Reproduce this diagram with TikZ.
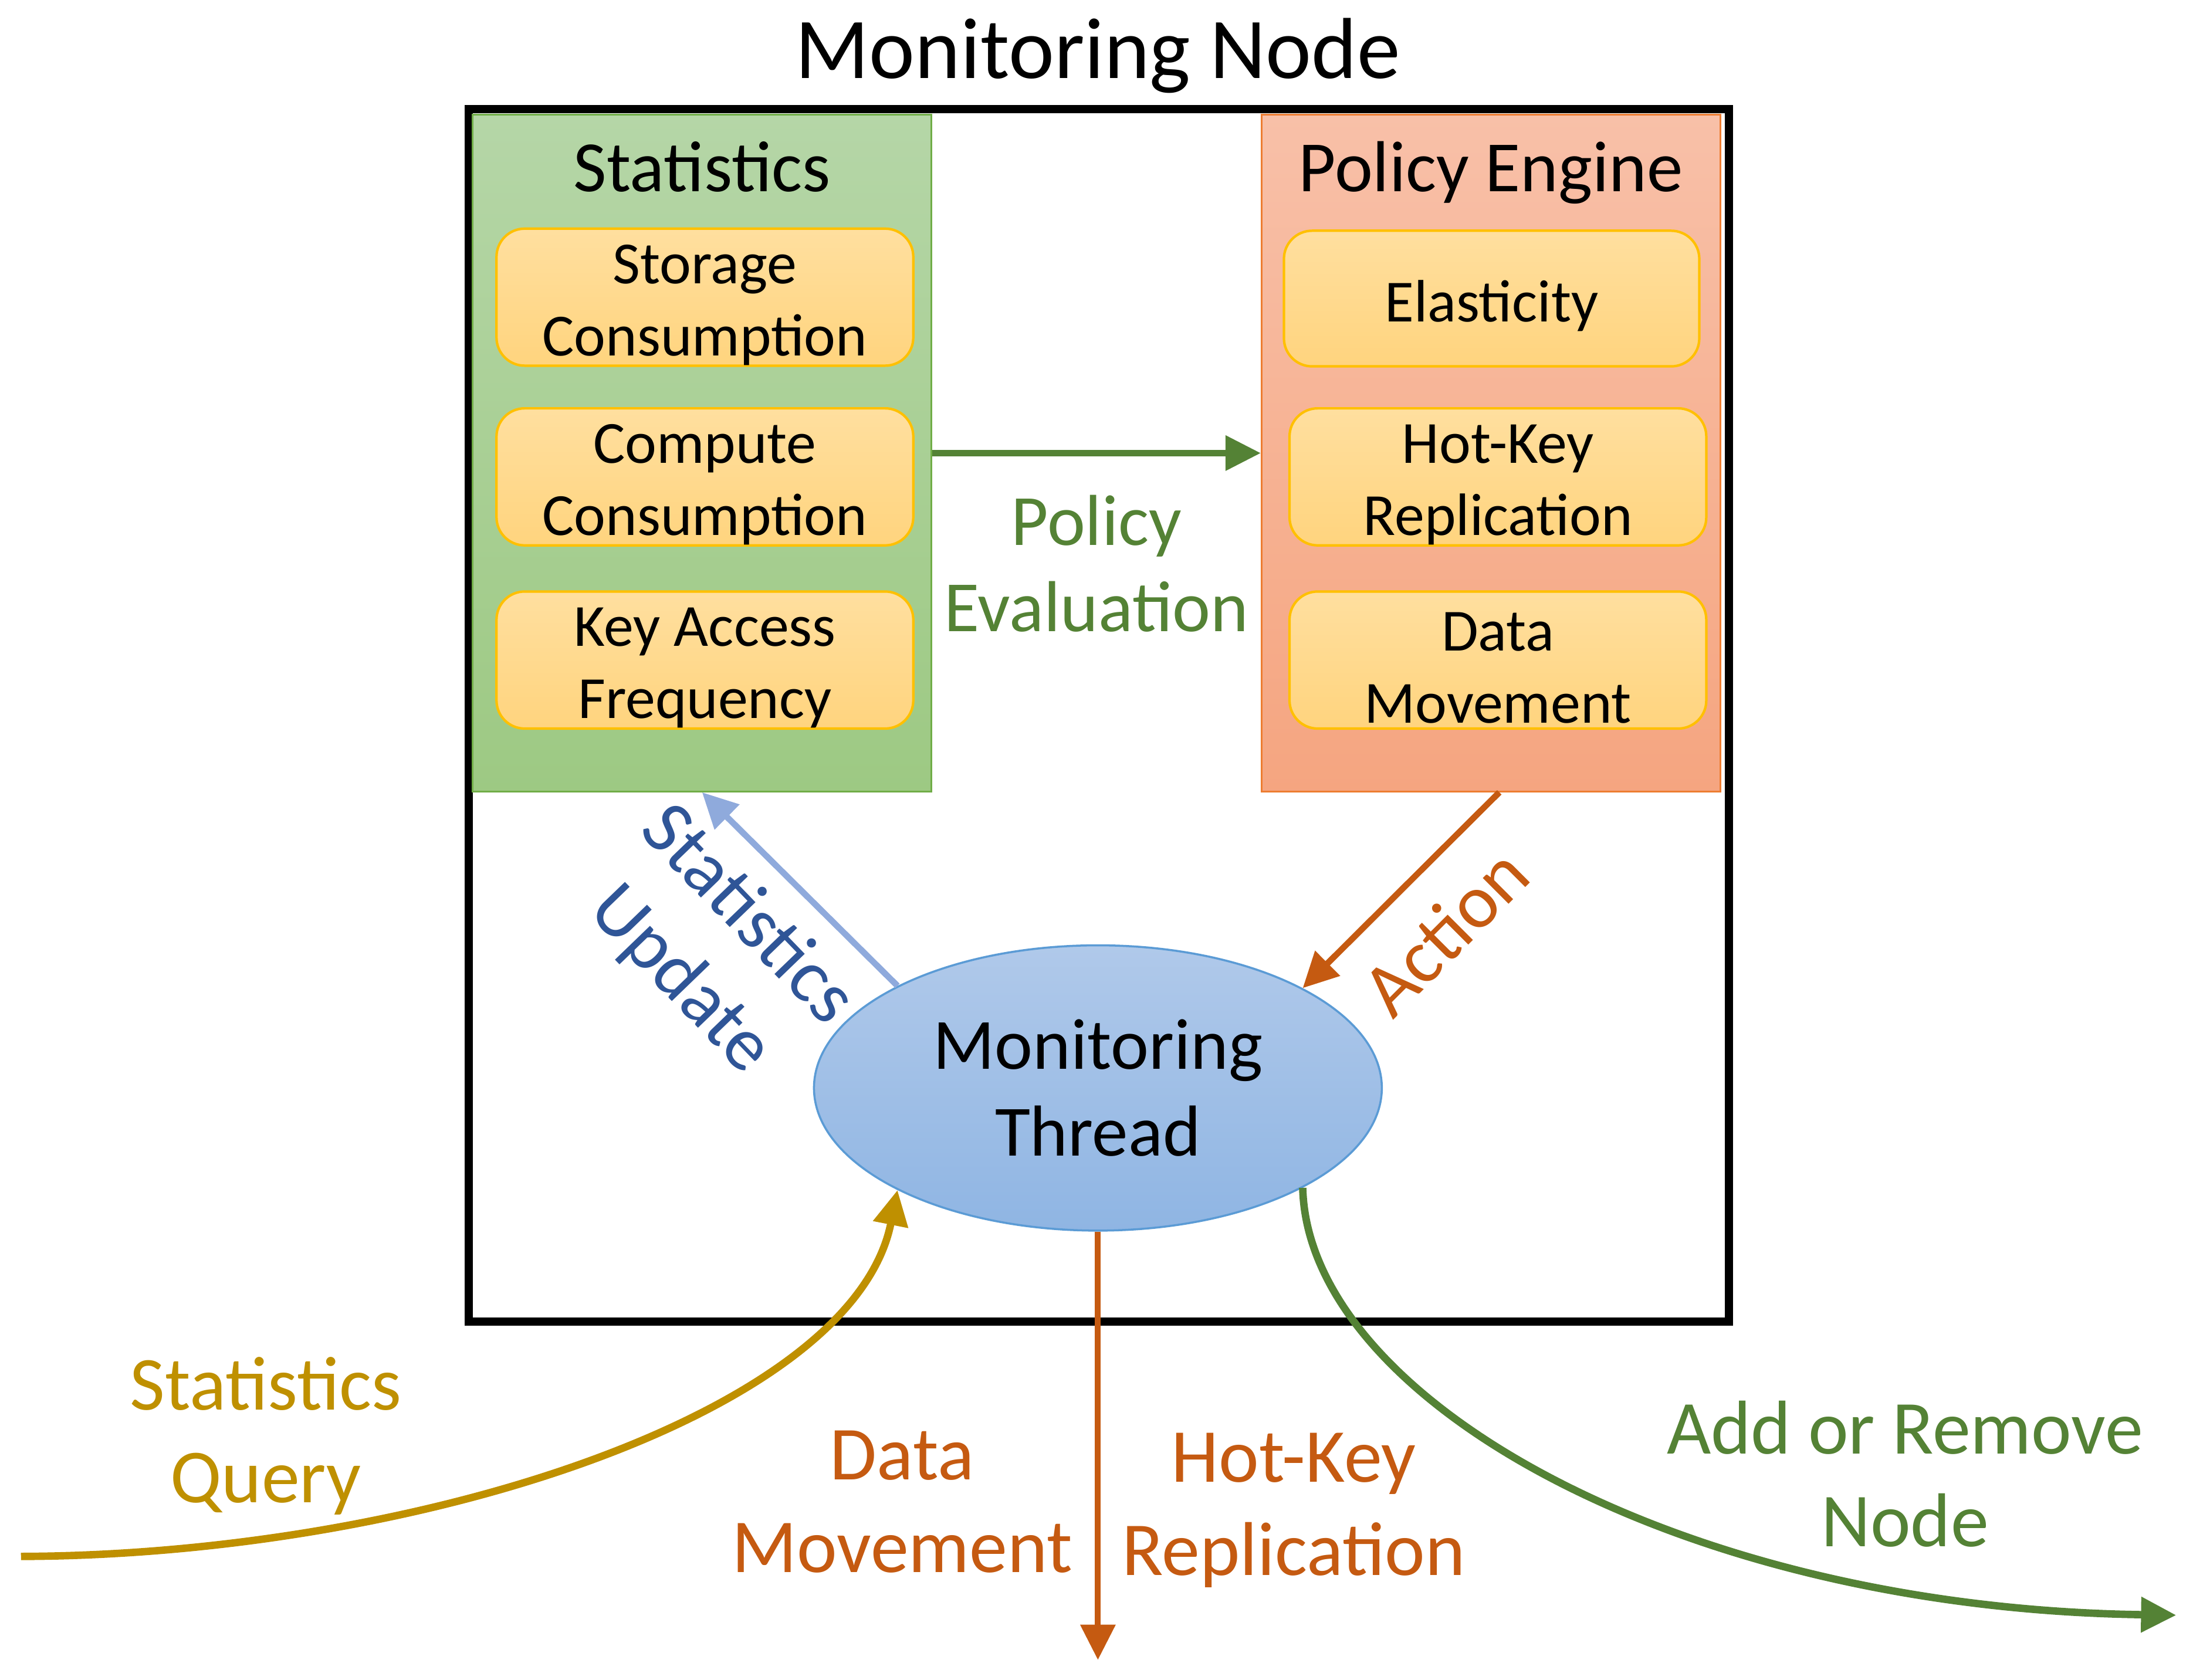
\documentclass[tikz,border=0pt]{standalone}
\usepackage{fontspec}
\setmainfont{Carlito}
\usetikzlibrary{arrows.meta,shapes.geometric}
\definecolor{gTop}{HTML}{B5D6A7}
\definecolor{gBot}{HTML}{9DC983}
\definecolor{gEdge}{HTML}{70AD47}
\definecolor{sTop}{HTML}{F8C0A8}
\definecolor{sBot}{HTML}{F5A580}
\definecolor{sEdge}{HTML}{ED7D31}
\definecolor{iTop}{HTML}{FFDF9F}
\definecolor{iBot}{HTML}{FFD47E}
\definecolor{iEdge}{HTML}{FFC000}
\definecolor{eTop}{HTML}{B0C9EA}
\definecolor{eBot}{HTML}{8FB5E3}
\definecolor{eEdge}{HTML}{5B9BD5}
\definecolor{cGreen}{HTML}{548235}
\definecolor{cOrange}{HTML}{C55A11}
\definecolor{cGold}{HTML}{BF9000}
\definecolor{cLBlue}{HTML}{8FAADC}
\definecolor{cDBlue}{HTML}{2F5597}
\def\U{0.02384cm}
\tikzset{
  outerbox/.style={draw=black, line width=4pt, inner sep=0pt, minimum width=901*\U, minimum height=867*\U},
  statbox/.style={draw=gEdge, line width=0.8pt, top color=gTop, bottom color=gBot, inner sep=0pt, minimum width=328*\U, minimum height=484*\U},
  polbox/.style={draw=sEdge, line width=0.8pt, top color=sTop, bottom color=sBot, inner sep=0pt, minimum width=328*\U, minimum height=484*\U},
  inbox/.style={draw=iEdge, line width=1.2pt, rounded corners=0.48cm, top color=iTop, bottom color=iBot, inner sep=0pt, minimum width=298*\U, minimum height=98*\U},
  intext/.style={font=\fontsize{29}{35}\selectfont, align=center, inner sep=0pt},
  headtext/.style={font=\fontsize{35}{42}\selectfont, inner sep=0pt, anchor=base},
  thread/.style={ellipse, draw=eEdge, line width=1pt, top color=eTop, bottom color=eBot, inner sep=0pt, minimum width=406*\U, minimum height=204*\U, align=center, font=\fontsize{35}{42}\selectfont},
  lbl/.style={font=\fontsize{37}{45}\selectfont, align=center, inner sep=0pt},
  flow/.style={line width=3pt, -{Triangle[length=0.6cm,width=0.58cm]}},
  curveflow/.style={flow, line width=3.6pt},
}
\begin{document}
\begin{tikzpicture}[x=\U,y=-\U]
\useasboundingbox (0,0) rectangle (1568,1201);
% title and outer box
\node[font=\fontsize{42}{50}\selectfont, inner sep=0pt, anchor=base] (title) at (785,56) {Monitoring Node};
\node[outerbox] (outer) at (785.5,511.5) {};
% statistics
\node[statbox] (stats) at (502,324) {};
\node[headtext] (statsh) at (502,137) {Statistics};
\node[inbox] (sc) at (504,212.5) {};
\node[intext] (sct) at (504,218) {Storage\\Consumption};
\node[inbox] (cc) at (504,341) {};
\node[intext] (cct) at (504,346.5) {Compute\\Consumption};
\node[inbox] (kf) at (504,472) {};
\node[intext] (kft) at (504,477.5) {Key Access\\Frequency};
% policy engine
\node[polbox] (pe) at (1066,324) {};
\node[headtext] (peh) at (1066,137) {Policy Engine};
\node[inbox, minimum width=297*\U, minimum height=97*\U] (el) at (1066.5,213.5) {};
\node[intext] (elt) at (1066.5,218.5) {Elasticity};
\node[inbox] (hk) at (1071,341) {};
\node[intext] (hkt) at (1071,346.5) {Hot-Key\\Replication};
\node[inbox] (dm) at (1071,472) {};
\node[intext] (dmt) at (1071,477.5) {Data\\Movement};
% monitoring thread
\node[thread] (mt) at (785,778) {Monitoring\\Thread};
% policy evaluation
\draw[flow, cGreen] (stats.east) -- (pe.west);
\node[font=\fontsize{35}{42}\selectfont, align=center, inner sep=0pt, text=cGreen] (pevl) at (784,403) {Policy\\Evaluation};
% statistics update
\draw[flow, cLBlue] (mt.153.6) -- (stats.south);
\node[lbl, text=cDBlue, rotate=-46] (supl) at (510,678) {Statistics\\Update};
% action
\draw[flow, cOrange] ([xshift=6*\U]pe.south) -- (mt.26.7);
\node[lbl, text=cOrange, rotate=45] (actl) at (1033,666) {Action};
% statistics query
\coordinate (sq) at (15,1113);
\draw[curveflow, cGold] (sq) .. controls (300,1112) and (610,1010) .. (mt.207.5);
\node[lbl, text=cGold] (sql) at (190,1027) {Statistics\\Query};
% data movement / hot-key replication
\coordinate (down) at (785,1187);
\draw[flow, cOrange, line width=2.8pt] (mt.south) -- (down);
\node[lbl, text=cOrange] (dml) at (645,1074) {Data\\Movement};
\node[lbl, text=cOrange] (hkl) at (925,1080) {Hot-Key\\Replication};
% add or remove node
\coordinate (ar) at (1556,1155);
\draw[curveflow, cGreen] (mt.334) .. controls (935,1000) and (1200,1150) .. (ar);
\node[lbl, text=cGreen] (arl) at (1362,1054) {Add or Remove\\Node};
\end{tikzpicture}
\end{document}
